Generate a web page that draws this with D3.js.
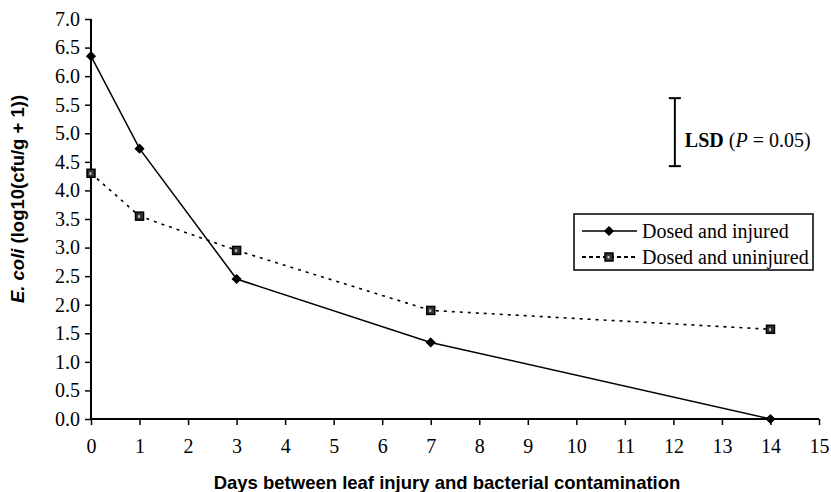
<!DOCTYPE html>
<html><head><meta charset="utf-8">
<script src="https://cdn.jsdelivr.net/npm/d3@7"></script>
<style>body{margin:0;background:#fff}svg{display:block}</style>
</head><body><svg id="c" width="831" height="492"></svg>
<script>
const days = [0, 1, 3, 7, 14];
const injured = [6.35, 4.73, 2.45, 1.34, 0.0];
const uninjured = [4.3, 3.55, 2.95, 1.9, 1.57];
const seriesNames = ["Dosed and injured", "Dosed and uninjured"];
const xTicks = d3.range(0, 16);
const yTicks = d3.range(0, 7.01, 0.5);
const lsd = {x: 12.03, center: 5.02, size: 1.19};

const svg = d3.select("#c");
const x = d3.scaleLinear().domain([0, 15]).range([91, 819]);
const y = d3.scaleLinear().domain([0, 7]).range([419, 19]);
const serif = "'Liberation Serif','Times New Roman',serif";
const sans = "'Liberation Sans',Arial,sans-serif";
const fs = 20;

// axes
const ya = svg.append("g").attr("transform", "translate(91,0)")
  .call(d3.axisLeft(y).tickValues(yTicks).tickFormat(d3.format(".1f")).tickSize(6).tickPadding(5));
ya.select(".domain").attr("stroke-width", 2).attr("d", `M-0,${y(7)}V${y(0)}`);
ya.selectAll(".tick line").attr("stroke-width", 1.5);
ya.selectAll("text").attr("font-family", serif).attr("font-size", fs).attr("fill", "#000");

const xa = svg.append("g").attr("transform", "translate(0,419)")
  .call(d3.axisBottom(x).tickValues(xTicks).tickFormat(d3.format("d")).tickSize(6).tickPadding(14));
xa.select(".domain").attr("stroke-width", 2).attr("d", `M${x(0)},0H${x(15)}`);
xa.selectAll(".tick line").attr("stroke-width", 1.5);
xa.selectAll("text").attr("font-family", serif).attr("font-size", fs).attr("fill", "#000");

// titles
const yt = svg.append("text").attr("transform", `translate(24,199) rotate(-90)`)
  .attr("text-anchor", "middle").attr("font-family", sans).attr("font-size", 18.5).attr("font-weight", "bold");
yt.append("tspan").attr("font-style", "italic").text("E. coli");
yt.append("tspan").text(" (log10(cfu/g + 1))");
svg.append("text").attr("x", 447).attr("y", 489).attr("text-anchor", "middle")
  .attr("font-family", sans).attr("font-size", 18.5).attr("font-weight", "bold")
  .text("Days between leaf injury and bacterial contamination");

// lines
const line = d3.line().x(d => x(d[0])).y(d => y(d[1]));
const d1 = days.map((d, i) => [d, injured[i]]);
const d2 = days.map((d, i) => [d, uninjured[i]]);
svg.append("path").attr("d", line(d2)).attr("fill", "none").attr("stroke", "#000")
  .attr("stroke-width", 1.6).attr("stroke-dasharray", "3,5");
svg.append("path").attr("d", line(d1)).attr("fill", "none").attr("stroke", "#000").attr("stroke-width", 1.5);

function drawDiamond(g, cx, cy) {
  g.append("path").attr("d", d3.symbol().type(d3.symbolSquare).size(52)())
    .attr("transform", `translate(${cx},${cy}) rotate(45)`).attr("fill", "#000");
}
function drawSquare(g, cx, cy) {
  g.append("rect").attr("x", cx - 4).attr("y", cy - 4).attr("width", 8).attr("height", 8)
    .attr("fill", "#333").attr("stroke", "#000").attr("stroke-width", 1.5);
  g.append("rect").attr("x", cx - 1.5).attr("y", cy - 1).attr("width", 2).attr("height", 2.5)
    .attr("fill", "#ccc");
}
d1.forEach(d => drawDiamond(svg, x(d[0]), y(d[1])));
d2.forEach(d => drawSquare(svg, x(d[0]), y(d[1])));

// LSD bar
const lx = x(lsd.x);
const lt = y(lsd.center + lsd.size / 2), lb = y(lsd.center - lsd.size / 2);
svg.append("line").attr("x1", lx).attr("x2", lx).attr("y1", lt).attr("y2", lb).attr("stroke", "#000").attr("stroke-width", 2);
[lt, lb].forEach(v => svg.append("line").attr("x1", lx - 6).attr("x2", lx + 6).attr("y1", v).attr("y2", v).attr("stroke", "#000").attr("stroke-width", 2));
const lsdT = svg.append("text").attr("x", lx + 10).attr("y", y(lsd.center) + 15)
  .attr("font-family", serif).attr("font-size", fs);
lsdT.append("tspan").attr("font-weight", "bold").text("LSD");
lsdT.append("tspan").text(" (");
lsdT.append("tspan").attr("font-style", "italic").text("P");
lsdT.append("tspan").text(" = 0.05)");

// legend
const lg = svg.append("g");
lg.append("rect").attr("x", 574).attr("y", 214).attr("width", 239).attr("height", 56)
  .attr("fill", "#fff").attr("stroke", "#000").attr("stroke-width", 1.5);
const rows = [231, 257];
lg.append("line").attr("x1", 582).attr("x2", 637).attr("y1", rows[0]).attr("y2", rows[0]).attr("stroke", "#000").attr("stroke-width", 1.5);
drawDiamond(lg, 609, rows[0]);
lg.append("line").attr("x1", 582).attr("x2", 637).attr("y1", rows[1]).attr("y2", rows[1]).attr("stroke", "#000").attr("stroke-width", 2).attr("stroke-dasharray", "4,3");
drawSquare(lg, 609, rows[1]);
seriesNames.forEach((n, i) => lg.append("text").attr("x", 642).attr("y", rows[i] + 7)
  .attr("font-family", serif).attr("font-size", fs).text(n));
</script></body></html>
